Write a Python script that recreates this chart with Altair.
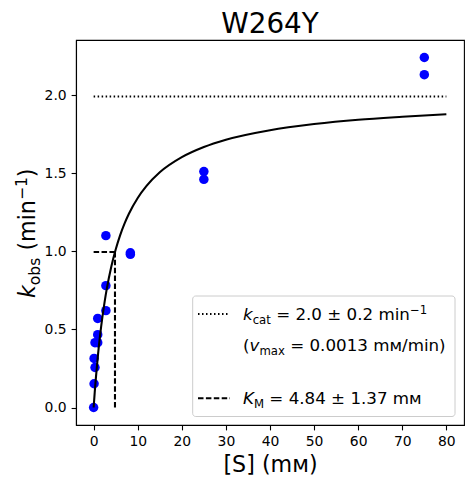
import altair as alt
import pandas as pd

FONT = "DejaVu Sans"

# ---- data ----
s_conc = [75, 75, 25, 25, 8.33, 8.33, 2.78, 2.78, 2.78, 0.926, 0.926, 0.926,
          0.309, 0.309, 0.103, 0.103, 0.0]
k_obs = [2.24, 2.13, 1.51, 1.46, 0.99, 0.98, 1.10, 0.78, 0.62, 0.57, 0.466, 0.415,
         0.415, 0.256, 0.314, 0.152, 0.0]

curve_s = [0, 0.25, 0.5, 1, 1.5, 2, 2.5, 3, 4, 5, 6, 7, 8, 10, 12, 15, 20, 25,
           30, 40, 50, 60, 70, 80]
curve_k = [0, 0.098, 0.186, 0.341, 0.471, 0.582, 0.678, 0.762, 0.901, 1.011,
           1.102, 1.177, 1.240, 1.341, 1.418, 1.505, 1.602, 1.667, 1.714, 1.775,
           1.814, 1.842, 1.861, 1.877]

kcat_s = [0, 80]
kcat_k = [1.99, 1.99]

km_h_s = [0, 4.84]
km_h_k = [0.995, 0.995]
km_v_s = [4.84, 4.84]
km_v_k = [0.0, 0.995]

x_ticks = [0, 10, 20, 30, 40, 50, 60, 70, 80]
y_ticks = [0.0, 0.5, 1.0, 1.5, 2.0]

title_text = "W264Y"
x_title = "[S] (m\u1d0d)"

# ---- helpers ----
pts = pd.DataFrame({"S": s_conc, "k": k_obs})
curve = pd.DataFrame({"S": curve_s, "k": curve_k})
kcat_df = pd.DataFrame({"S": kcat_s, "k": kcat_k})
kmh_df = pd.DataFrame({"S": km_h_s, "k": km_h_k})
kmv_df = pd.DataFrame({"S": km_v_s, "k": km_v_k})
dummy = pd.DataFrame({"a": [0]})

xs = alt.Scale(domain=[-4, 84], nice=False, zero=False)
ys = alt.Scale(domain=[-0.112, 2.352], nice=False, zero=False)
xax = alt.Axis(values=x_ticks, title=x_title, grid=False)
yax = alt.Axis(values=y_ticks, format=".1f", title="", grid=False)

def enc(ch):
    return ch.encode(
        x=alt.X("S:Q", scale=xs, axis=xax),
        y=alt.Y("k:Q", scale=ys, axis=yax),
    )

LW = 2.08
points = enc(alt.Chart(pts).mark_circle(size=90, color="#0000ff", opacity=1))
fit = enc(alt.Chart(curve).mark_line(color="black", strokeWidth=LW, interpolate="monotone"))
kcat_line = enc(alt.Chart(kcat_df).mark_line(color="black", strokeWidth=LW, strokeDash=[1.5, 2.5]))
kmh_line = enc(alt.Chart(kmh_df).mark_line(color="black", strokeWidth=LW, strokeDash=[5.5, 2.4]))
kmv_line = enc(alt.Chart(kmv_df).mark_line(color="black", strokeWidth=LW, strokeDash=[5.5, 2.4]))

# DejaVu Sans advance widths (em)
W = {" ": 0.318, "(": 0.390, ")": 0.390, "=": 0.838, "\u00b1": 0.838, ".": 0.318,
     "/": 0.337, "a": 0.613, "b": 0.635, "c": 0.550, "i": 0.278, "m": 0.974,
     "n": 0.634, "o": 0.612, "s": 0.521, "t": 0.392, "x": 0.592, "v": 0.592,
     "k": 0.579, "K": 0.656, "M": 0.863, "\u2212": 0.838, "\u1d0d": 0.745}
for d in "0123456789":
    W[d] = 0.636

def wid(txt, size):
    return sum(W.get(c, 0.6) for c in txt) * size

def seg(txt, x, y, size, italic=False, angle=0):
    kw = dict(text=txt, align="left", baseline="alphabetic", font=FONT,
              fontSize=size, color="black", angle=angle)
    if italic:
        kw["fontStyle"] = "italic"
    return alt.Chart(dummy).mark_text(**kw).encode(x=alt.value(x), y=alt.value(y))

def parts_iter(parts, size):
    for txt, kind in parts:
        small = kind in ("sub", "sup")
        fs = size * 0.7 if small else size
        shift = 0.21 * size if kind == "sub" else (-0.36 * size if kind == "sup" else 0)
        lead = len(txt) - len(txt.lstrip(" "))
        yield txt.strip(" "), fs, shift, kind == "i", wid(txt[:lead], fs), wid(txt, fs)

def line_h(parts, x0, y0, size):
    out = []
    x = x0
    for t, fs, shift, it, lead, w in parts_iter(parts, size):
        out.append(seg(t, x + lead, y0 + shift, fs, italic=it))
        x += w
    return out

def line_v(parts, x0, y0, size):
    out = []
    y = y0
    for t, fs, shift, it, lead, w in parts_iter(parts, size):
        out.append(seg(t, x0 + shift, y - lead, fs, italic=it, angle=270))
        y -= w
    return out

# title
title = alt.Chart(dummy).mark_text(text=title_text, align="center", baseline="alphabetic",
                                   font=FONT, fontSize=27.8, color="black").encode(
    x=alt.value(194), y=alt.value(-7.3))

# y-axis title (rotated, composed)
ytitle = line_v([("k", "i"), ("obs", "sub"), (" (min", "n"), ("\u22121", "sup"), (")", "n")],
                -41, 258, 22.2)

# legend
LF = 16.7
legend_box = alt.Chart(dummy).mark_rect(fill="white", fillOpacity=0.8, stroke="#cccccc",
                                        strokeWidth=1, cornerRadius=3).encode(
    x=alt.value(116.7), x2=alt.value(379), y=alt.value(256), y2=alt.value(376.5))
leg_dot = alt.Chart(dummy).mark_rule(color="black", strokeWidth=LW, strokeDash=[1.5, 2.5]).encode(
    x=alt.value(122), x2=alt.value(154), y=alt.value(274))
leg_dash = alt.Chart(dummy).mark_rule(color="black", strokeWidth=LW, strokeDash=[5.5, 2.4]).encode(
    x=alt.value(122), x2=alt.value(154), y=alt.value(358.3))
leg_text = []
leg_text += line_h([("k", "i"), ("cat", "sub"), (" = 2.0 \u00b1 0.2 min", "n"), ("\u22121", "sup")],
                   167, 280, LF)
leg_text += line_h([("(", "n"), ("v", "i"), ("max", "sub"), (" = 0.0013 m\u1d0d/min)", "n")],
                   167, 311, LF)
leg_text += line_h([("K", "i"), ("M", "sub"), (" = 4.84 \u00b1 1.37 m\u1d0d", "n")],
                   167, 364, LF)

chart = alt.layer(
    points, fit, kcat_line, kmh_line, kmv_line, title,
    legend_box, leg_dot, leg_dash, *leg_text, *ytitle
).properties(
    width=388, height=385,
    autosize=alt.AutoSizeParams(type="none"),
    padding={"left": 68, "top": 32, "right": 1, "bottom": 51},
).configure_view(
    stroke="black", strokeWidth=1.1
).configure_axis(
    domainColor="black", domainWidth=1.1, tickColor="black", tickWidth=1.1, tickSize=4.9,
    labelFont=FONT, labelFontSize=13.9, labelColor="black", labelPadding=4.9,
    titleFont=FONT, titleFontSize=22.2, titleColor="black", titleFontWeight="normal",
    titlePadding=5, grid=False,
)

chart.save("out.html", embed_options={"renderer": "svg", "actions": False})
